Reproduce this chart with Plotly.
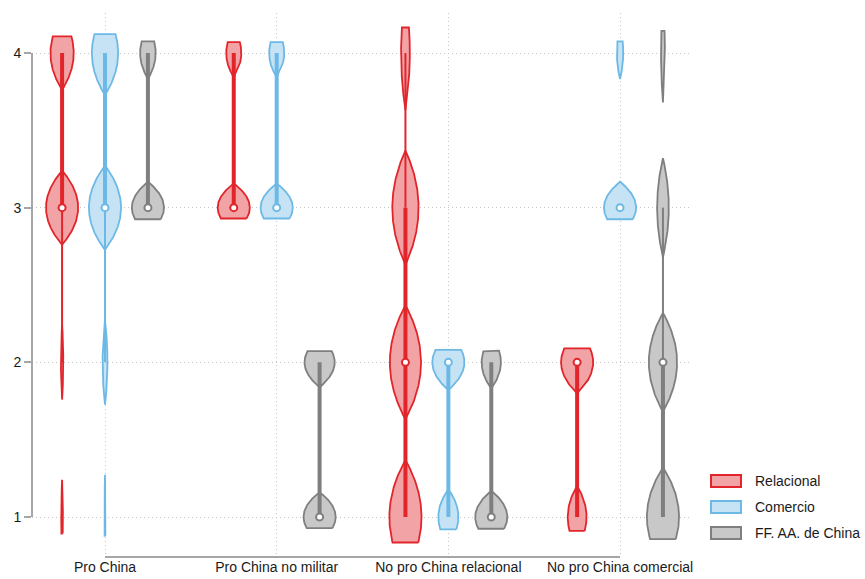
import numpy as np
import plotly.graph_objects as go

# ---- data -----------------------------------------------------------------
groups = ["Pro China", "Pro China no militar", "No pro China relacional", "No pro China comercial"]
series_names = ["Relacional", "Comercio", "FF. AA. de China"]
levels = [1, 2, 3, 4]
y_ticks = [1, 2, 3, 4]

# number of responses at each level (1..4), one row per group
relacional = [[2, 3, 40, 29], [0, 0, 34, 16], [33, 32, 27, 9], [10, 17, 0, 0]]
comercio = [[1, 5, 33, 27], [0, 0, 34, 16], [10, 16, 0, 0], [0, 0, 20, 4]]
ffaa = [[0, 0, 35, 17], [17, 16, 0, 0], [20, 12, 0, 0], [33, 29, 12, 4]]

# Epanechnikov kernel bandwidth for each violin
bw_relacional = [0.107, 0.070, 0.165, 0.090]
bw_comercio = [0.122, 0.070, 0.080, 0.075]
bw_ffaa = [0.075, 0.072, 0.076, 0.143]

# ---- styling --------------------------------------------------------------
line_colors = ["#E2252B", "#6DB9E6", "#7F7F7F"]
fill_colors = ["#F1A3A6", "#C5E3F4", "#C8C8C8"]
axis_color = "#A6A6A6"
grid_color = "#C4C4C4"
text_color = "#1A1A1A"
FONT = "Liberation Sans, Arial, sans-serif"

HALF_WIDTH = 0.375        # widest point of each violin, in x units
GROUP_STEP = 4            # distance between group centres
SERIES_OFFSETS = [-1, 0, 1]

W, H = 865, 579
M_L, M_R, M_T, M_B = 32, 175, 13, 22
PLOT_W = W - M_L - M_R
PLOT_H = H - M_T - M_B

centers = [i * GROUP_STEP for i in range(len(groups))]
all_counts = [relacional, comercio, ffaa]
all_bw = [bw_relacional, bw_comercio, bw_ffaa]


def violin_outline(counts, h, pos):
    """Closed outline(s) of an Epanechnikov density, mirrored about pos."""
    vals = np.array(levels, float)
    c = np.array(counts, float)
    present = vals[c > 0]
    lo, hi = present.min() - h, present.max() + h
    y = np.linspace(lo, hi, 2001)
    z = (y[:, None] - vals[None, :]) / h
    k = np.where(np.abs(z) < np.sqrt(5), 0.75 * (1 - z ** 2 / 5) / np.sqrt(5), 0.0)
    d = (k * c).sum(axis=1)
    w = HALF_WIDTH * d / d.max()
    idx = np.flatnonzero(w > 1e-9)
    runs = np.split(idx, np.flatnonzero(np.diff(idx) > 1) + 1)
    xs, ys = [], []
    for run in runs:
        a = max(run[0] - 1, 0)
        b = min(run[-1] + 1, len(y) - 1)
        yy, ww = y[a:b + 1], w[a:b + 1]
        xs += list(pos + ww) + list(pos - ww[::-1]) + [pos + ww[0], None]
        ys += list(yy) + list(yy[::-1]) + [yy[0], None]
    return xs, ys


def box_stats(counts):
    data = np.repeat(levels, counts)
    q1, med, q3 = np.percentile(data, [25, 50, 75], method="inverted_cdf")
    iqr = q3 - q1
    lo_adj = data[data >= q1 - 1.5 * iqr].min()
    hi_adj = data[data <= q3 + 1.5 * iqr].max()
    return q1, med, q3, lo_adj, hi_adj


fig = go.Figure()

# violins
for s, name in enumerate(series_names):
    xs, ys = [], []
    for g in range(len(groups)):
        pos = centers[g] + SERIES_OFFSETS[s]
        vx, vy = violin_outline(all_counts[s][g], all_bw[s][g], pos)
        xs += vx
        ys += vy
    fig.add_trace(go.Scatter(
        x=xs, y=ys, mode="lines", fill="toself", fillcolor=fill_colors[s],
        line=dict(color=line_colors[s], width=1.8), name=name,
        hoverinfo="skip", showlegend=False,
    ))

# whiskers, boxes and medians
for s, name in enumerate(series_names):
    wx, wy, bx, by, mx, my = [], [], [], [], [], []
    for g in range(len(groups)):
        pos = centers[g] + SERIES_OFFSETS[s]
        q1, med, q3, lo_adj, hi_adj = box_stats(all_counts[s][g])
        if hi_adj > q3:
            wx += [pos, pos, None]
            wy += [q3, hi_adj, None]
        if lo_adj < q1:
            wx += [pos, pos, None]
            wy += [lo_adj, q1, None]
        if q3 > q1:
            bx += [pos, pos, None]
            by += [q1, q3, None]
        mx.append(pos)
        my.append(med)
    fig.add_trace(go.Scatter(x=wx, y=wy, mode="lines", hoverinfo="skip", showlegend=False,
                             line=dict(color=line_colors[s], width=2)))
    fig.add_trace(go.Scatter(x=bx, y=by, mode="lines", hoverinfo="skip", showlegend=False,
                             line=dict(color=line_colors[s], width=4)))
    fig.add_trace(go.Scatter(x=mx, y=my, mode="markers", hoverinfo="skip", showlegend=False,
                             marker=dict(size=7, color="white",
                                         line=dict(color=line_colors[s], width=2))))

# shortened axis lines spanning only the tick range
shapes = [
    dict(type="line", xref="x", yref="paper", x0=centers[0], x1=centers[-1], y0=0, y1=0,
         line=dict(color=axis_color, width=2)),
    dict(type="line", xref="paper", yref="y", x0=0, x1=0, y0=min(y_ticks), y1=max(y_ticks),
         line=dict(color=axis_color, width=2)),
]

# legend keys
annotations = []
for s, name in enumerate(series_names):
    cy = 481 + 26 * s
    shapes.append(dict(
        type="rect", xref="paper", yref="paper",
        x0=(711 - M_L) / PLOT_W, x1=(741 - M_L) / PLOT_W,
        y0=(H - M_B - (cy + 6)) / PLOT_H, y1=(H - M_B - (cy - 6)) / PLOT_H,
        fillcolor=fill_colors[s], line=dict(color=line_colors[s], width=2),
    ))
    annotations.append(dict(
        xref="paper", yref="paper", x=(753 - M_L) / PLOT_W, y=(H - M_B - cy) / PLOT_H,
        xanchor="left", yanchor="middle", text=name, showarrow=False,
        font=dict(family=FONT, size=14, color=text_color),
    ))

x_range = [-(105 - M_L) / 42.92, (W - M_R - 105) / 42.92]
y_unit = (517 - 53) / 3.0
y_range = [1 - (H - M_B - 517) / y_unit, 4 + (53 - M_T) / y_unit]

fig.update_layout(
    width=W, height=H,
    margin=dict(l=M_L, r=M_R, t=M_T, b=M_B, autoexpand=False),
    plot_bgcolor="white", paper_bgcolor="white",
    showlegend=False,
    font=dict(family=FONT, size=14, color=text_color),
    shapes=shapes, annotations=annotations,
)
fig.update_xaxes(
    range=x_range, tickmode="array", tickvals=centers, ticktext=groups,
    showgrid=True, gridcolor=grid_color, griddash="1px,3px", gridwidth=1,
    zeroline=False, showline=False, ticks="", ticklen=0,
    tickfont=dict(family=FONT, size=14, color=text_color),
    fixedrange=True,
)
fig.update_yaxes(
    range=y_range, tickmode="array", tickvals=y_ticks,
    showgrid=True, gridcolor=grid_color, griddash="1px,3px", gridwidth=1,
    zeroline=False, showline=False, ticks="outside", ticklen=7, tickwidth=1.5,
    tickcolor=axis_color, tickfont=dict(family=FONT, size=14, color=text_color),
    fixedrange=True,
)

fig.write_html("out.html")
